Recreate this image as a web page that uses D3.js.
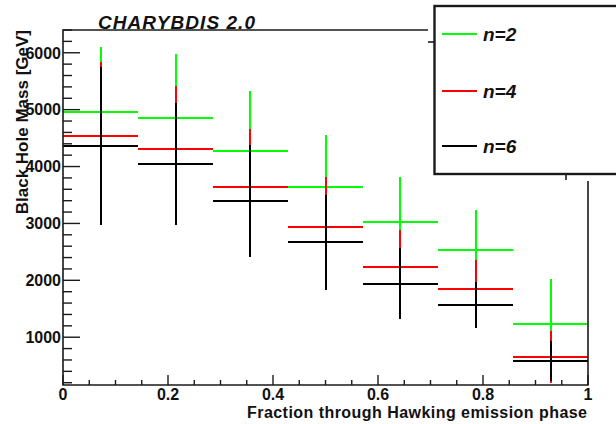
<!DOCTYPE html>
<html>
<head>
<meta charset="utf-8">
<script src="https://cdn.jsdelivr.net/npm/d3@7"></script>
<style>
  body { margin: 0; background: #fff; }
  svg { display: block; }
  text { font-family: "Liberation Sans", Arial, sans-serif; font-weight: bold; fill: #111; }
</style>
</head>
<body>
<svg id="chart" width="616" height="424"></svg>
<script>
// bin edges (7 equal bins over the emission phase)
var binEdges = [0, 1/7, 2/7, 3/7, 4/7, 5/7, 6/7, 1];

// mean black hole mass per bin and its error, one pair per series
var n2Mass = [4952, 4846, 4276, 3633, 3017, 2530, 1224];
var n2Err  = [1153, 1131, 1056, 920, 802, 704, 808];
var n4Mass = [4540, 4301, 3633, 2935, 2236, 1839, 654];
var n4Err  = [1302, 1113, 1030, 884, 643, 515, 457];
var n6Mass = [4359, 4043, 3397, 2666, 1944, 1568, 578];
var n6Err  = [1395, 1070, 985, 838, 630, 410, 350];

var seriesNames = ["n=2", "n=4", "n=6"];
var seriesColors = ["#00ff00", "#ff0000", "#000000"];

var xTicks = [0, 0.2, 0.4, 0.6, 0.8, 1];
var yTicks = [1000, 2000, 3000, 4000, 5000, 6000];

var svg = d3.select("#chart");

var x = d3.scaleLinear().domain([0, 1]).range([63, 588]);
var y = d3.scaleLinear().domain([160, 6400]).range([385, 30]);

var allSeries = [
	{ name: seriesNames[0], color: seriesColors[0], mass: n2Mass, err: n2Err },
	{ name: seriesNames[1], color: seriesColors[1], mass: n4Mass, err: n4Err },
	{ name: seriesNames[2], color: seriesColors[2], mass: n6Mass, err: n6Err }
];

// histograms with error bars, green first so black ends on top
allSeries.forEach(function(s) {
	var g = svg.append("g")
		.attr("stroke", s.color)
		.attr("stroke-width", 2)
		.attr("shape-rendering", "crispEdges");
	for (var i=0; i<s.mass.length; i++) {
		var lo = binEdges[i], hi = binEdges[i+1];
		var mid = Math.round(x((lo + hi) / 2));
		g.append("line")
			.attr("x1", x(lo)).attr("x2", x(hi))
			.attr("y1", Math.round(y(s.mass[i]))).attr("y2", Math.round(y(s.mass[i])));
		g.append("line")
			.attr("x1", mid).attr("x2", mid)
			.attr("y1", y(s.mass[i] + s.err[i]))
			.attr("y2", y(Math.max(s.mass[i] - s.err[i], y.domain()[0])));
	}
});

// frame
var axisColor = "#1a1a1a";
svg.append("path")
	.attr("d", "M" + x(0) + "," + y.range()[1] + "H" + x(1) + "V" + y.range()[0] + "H" + x(0) + "Z")
	.attr("fill", "none").attr("stroke", axisColor).attr("stroke-width", 1.6);

// x axis ticks
var xMinor = d3.range(0, 1.0001, 0.05);
svg.append("g").selectAll("line").data(xMinor).enter().append("line")
	.attr("x1", function(d){ return x(d); }).attr("x2", function(d){ return x(d); })
	.attr("y1", y.range()[0])
	.attr("y2", function(d, i){ return y.range()[0] - (i % 4 === 0 ? 10 : 5); })
	.attr("stroke", axisColor).attr("stroke-width", 1.4);

svg.append("g").selectAll("text").data(xTicks).enter().append("text")
	.attr("x", function(d){ return x(d); })
	.attr("y", 400)
	.attr("text-anchor", "middle")
	.attr("font-size", 16)
	.text(function(d){ return d; });

// y axis ticks
var yMinor = d3.range(200, 6401, 200);
svg.append("g").selectAll("line").data(yMinor).enter().append("line")
	.attr("x1", x(0))
	.attr("x2", function(d){ return x(0) + (d % 1000 === 0 ? 17 : 9); })
	.attr("y1", function(d){ return y(d); }).attr("y2", function(d){ return y(d); })
	.attr("stroke", axisColor).attr("stroke-width", 1.4);

svg.append("g").selectAll("text").data(yTicks).enter().append("text")
	.attr("x", 61)
	.attr("y", function(d){ return y(d); })
	.attr("dy", "0.36em")
	.attr("text-anchor", "end")
	.attr("font-size", 16)
	.text(function(d){ return d; });

// axis titles
svg.append("text")
	.attr("x", 587).attr("y", 418)
	.attr("text-anchor", "end")
	.attr("font-size", 16)
	.attr("textLength", 340)
	.text("Fraction through Hawking emission phase");

svg.append("text")
	.attr("transform", "translate(28,30) rotate(-90)")
	.attr("text-anchor", "end")
	.attr("font-size", 17)
	.text("Black Hole Mass [GeV]");

// title
svg.append("text")
	.attr("x", 98).attr("y", 29)
	.attr("font-size", 19)
	.attr("font-style", "italic")
	.attr("textLength", 157)
	.text("CHARYBDIS 2.0");

// legend: white area hides the frame corner, then the box
svg.append("rect")
	.attr("x", 428).attr("y", 0).attr("width", 190).attr("height", 181)
	.attr("fill", "#fff");
svg.append("line").attr("x1", 428).attr("x2", 434).attr("y1", 42).attr("y2", 42)
	.attr("stroke", axisColor).attr("stroke-width", 1.6);
svg.append("line").attr("x1", 566).attr("x2", 566).attr("y1", 174).attr("y2", 180)
	.attr("stroke", axisColor).attr("stroke-width", 1.6);
svg.append("rect")
	.attr("x", 434.5).attr("y", 6).attr("width", 200).attr("height", 168)
	.attr("fill", "#fff").attr("stroke", axisColor).attr("stroke-width", 2.4);

var legendY = [34, 91, 146];
var legend = svg.append("g").selectAll("g").data(allSeries).enter().append("g")
	.attr("transform", function(d, i){ return "translate(0," + legendY[i] + ")"; });
legend.append("line")
	.attr("x1", 442).attr("x2", 477).attr("y1", 0).attr("y2", 0)
	.attr("stroke", function(d){ return d.color; }).attr("stroke-width", 2)
	.attr("shape-rendering", "crispEdges");
legend.append("text")
	.attr("x", 483).attr("y", 7)
	.attr("font-size", 19)
	.attr("font-style", "italic")
	.attr("fill", "#222")
	.text(function(d){ return d.name; });
</script>
</body>
</html>
